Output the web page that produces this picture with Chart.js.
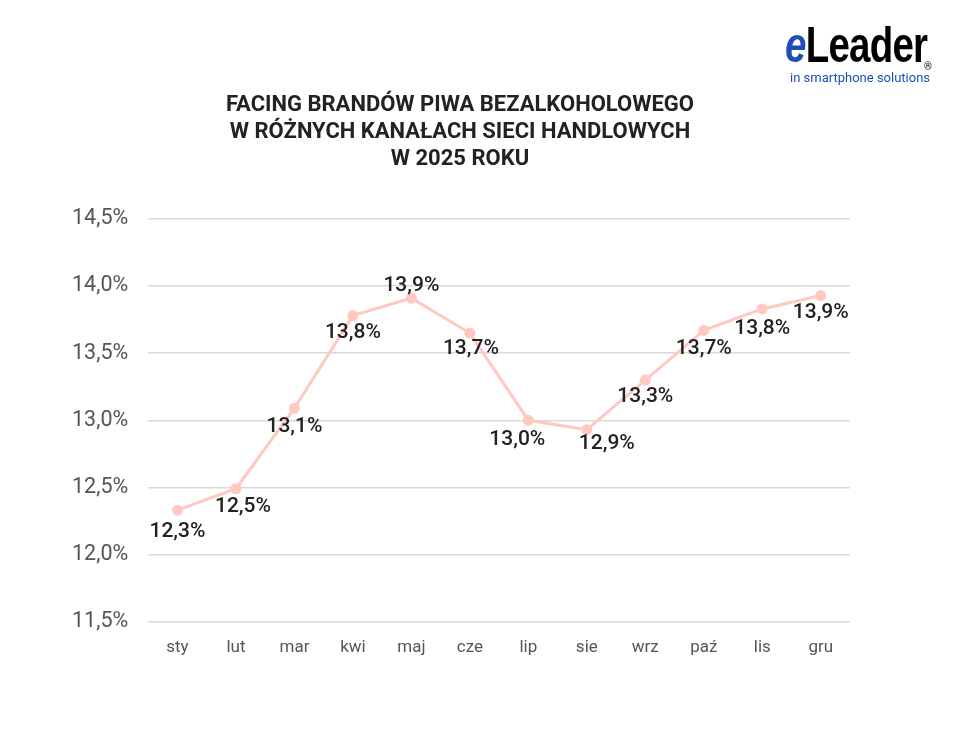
<!DOCTYPE html>
<html>
<head>
<meta charset="utf-8">
<script src="https://cdn.jsdelivr.net/npm/chart.js@4"></script>
<style>
body{margin:0;background:#fff;font-family:Roboto,sans-serif;}
#wrap{position:relative;width:960px;height:745px;}
#chart{position:absolute;left:0;top:0;}
#tytul{position:absolute;left:0;top:90px;width:920px;text-align:center;font-weight:bold;font-size:22px;line-height:27px;color:#222;}
#logo{position:absolute;left:785px;top:22px;width:150px;height:64px;}
#logo .big{position:absolute;left:0;top:0;font-family:"Liberation Sans",sans-serif;font-weight:bold;font-size:50px;letter-spacing:-1px;line-height:46px;white-space:nowrap;color:#000;transform:scaleX(0.77);transform-origin:left top;}
#logo .e{color:#1e4fb4;font-style:italic;}
#logo .r{position:absolute;left:139px;top:39px;font-size:10px;}
#logo .sub{position:absolute;left:5px;top:48px;color:#1e4fb4;font-size:13px;white-space:nowrap;}
</style>
</head>
<body>
<div id="wrap">
<canvas id="chart" width="960" height="745"></canvas>
<div id="tytul">FACING BRANDÓW PIWA BEZALKOHOLOWEGO<br>W RÓŻNYCH KANAŁACH SIECI HANDLOWYCH<br>W 2025 ROKU</div>
<div id="logo"><div class="big"><span class="e">e</span>Leader</div><span class="r">®</span><div class="sub">in smartphone solutions</div></div>
</div>
<script>
const miesiace=["sty","lut","mar","kwi","maj","cze","lip","sie","wrz","paź","lis","gru"];
const udzial=[12.33,12.49,13.09,13.78,13.91,13.65,13.0,12.93,13.3,13.67,13.83,13.93];
const etykiety=["12,3%","12,5%","13,1%","13,8%","13,9%","13,7%","13,0%","12,9%","13,3%","13,7%","13,8%","13,9%"];
// przesuniecia etykiet wzgledem punktow
const przesX=[0,7,0,0,0,1,-11,20,0,0,0,0];
const przesY=[22,18,19,17,-12,16,19,14,17,18,20,17];

function fmt(v){return v.toFixed(1).replace(".",",")+"%";}

const etykietyPlugin={
id:"etykiety",
afterDatasetsDraw(chart){
let ctx=chart.ctx;
let meta=chart.getDatasetMeta(0);
ctx.save();
ctx.font="500 21px Roboto";
ctx.fillStyle="#222";
ctx.textAlign="center";
ctx.textBaseline="middle";
meta.data.forEach((p,i)=>{
ctx.fillText(etykiety[i],p.x+przesX[i],p.y+przesY[i]);
});
ctx.restore();
}
};

new Chart(document.getElementById("chart"),{
type:"line",
data:{labels:miesiace,datasets:[{data:udzial,borderColor:"#ffc8c1",backgroundColor:"#ffc8c1",borderWidth:3,pointRadius:4,pointHoverRadius:4,tension:0}]},
options:{
responsive:false,
animation:false,
layout:{padding:{top:219,left:52,right:110,bottom:79}},
plugins:{legend:{display:false},tooltip:{enabled:false}},
scales:{
y:{min:11.5,max:14.5,border:{display:false},
grid:{color:"#d9d9d9",lineWidth:1.5,drawTicks:false},
ticks:{stepSize:0.5,padding:20,color:"#555",font:{family:"Roboto",size:21.5},callback:v=>fmt(v)}},
x:{offset:true,border:{display:false},grid:{display:false},
ticks:{padding:8,color:"#555",font:{family:"Roboto",size:17}}}
}
},
plugins:[etykietyPlugin]
});
</script>
</body>
</html>
